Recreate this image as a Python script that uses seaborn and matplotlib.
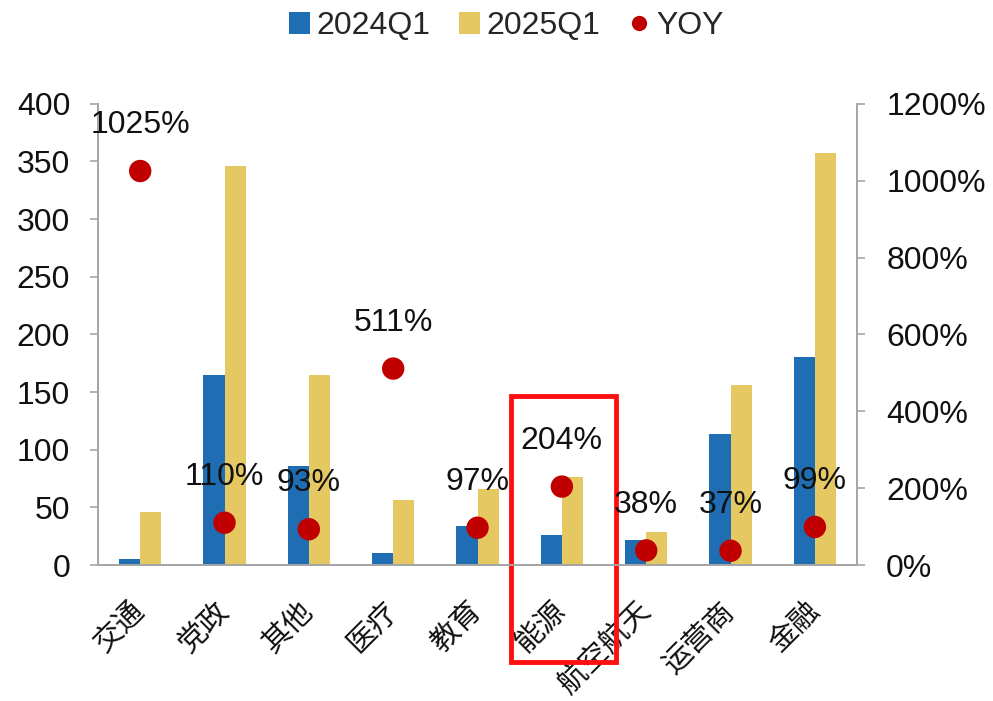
import numpy as np
import pandas as pd
import matplotlib
matplotlib.use("Agg")
import matplotlib.pyplot as plt
import matplotlib.transforms as mtransforms
from matplotlib.patches import Patch, Rectangle
from matplotlib.lines import Line2D
from matplotlib.ticker import FuncFormatter, MultipleLocator
import seaborn as sns

# Industry breakdown, 2024Q1 vs 2025Q1, with year-over-year growth
categories = ["交通", "党政", "其他", "医疗", "教育", "能源", "航空航天", "运营商", "金融"]
values_2024q1 = [5, 165, 86, 10, 34, 26, 22, 114, 180]
values_2025q1 = [46, 346, 165, 56, 66, 76, 29, 156, 357]
yoy_pct = [1025, 110, 93, 511, 97, 204, 38, 37, 99]
series_names = ["2024Q1", "2025Q1"]

BLUE = "#1F6DB2"
YELLOW = "#E5C862"
RED = "#C00000"
GRAY = "#A6A6A6"

sns.set_theme(style="white")
plt.rcParams["font.family"] = ["Liberation Sans", "Noto Sans CJK SC", "DejaVu Sans"]

df = pd.DataFrame({
    "category": categories * 2,
    "period": [series_names[0]] * len(categories) + [series_names[1]] * len(categories),
    "value": values_2024q1 + values_2025q1,
})

fig = plt.figure(figsize=(9.93, 7.01), dpi=100)
ax = fig.add_axes([0.0987, 0.194, 0.7644, 0.658])

sns.barplot(data=df, x="category", y="value", hue="period", order=categories,
            hue_order=series_names, palette=[BLUE, YELLOW], width=0.5,
            saturation=1, linewidth=0, ax=ax, legend=False)
ax.set_xlim(-0.5, len(categories) - 0.5)
ax.set_ylim(0, 400)
ax.yaxis.set_major_locator(MultipleLocator(50))
ax.set_xlabel("")
ax.set_ylabel("")

ax2 = ax.twinx()
x_idx = np.arange(len(categories))
sns.scatterplot(x=x_idx, y=yoy_pct, color=RED, s=260, edgecolor="none",
                ax=ax2, legend=False, zorder=5)
ax2.set_ylim(0, 1200)
ax2.yaxis.set_major_locator(MultipleLocator(200))
ax2.yaxis.set_major_formatter(FuncFormatter(lambda v, _: f"{v:.0f}%"))
ax2.set_xlim(-0.5, len(categories) - 0.5)
ax2.set_ylabel("")

for i, v in enumerate(yoy_pct):
    ax2.annotate(f"{v}%", (x_idx[i], v), xytext=(0, 33), textcoords="offset points",
                 ha="center", va="center", fontsize=23, color="#111111", zorder=6)

# axes styling
for a in (ax, ax2):
    a.spines["top"].set_visible(False)
    for s in ("left", "right", "bottom"):
        a.spines[s].set_color(GRAY)
        a.spines[s].set_linewidth(1.3)
ax.tick_params(axis="y", which="major", direction="out", length=6, width=1.2,
               color=GRAY, labelsize=23, labelcolor="#111111", pad=14)
ax2.tick_params(axis="y", which="major", direction="out", length=6, width=1.2,
                color=GRAY, labelsize=23, labelcolor="#111111", pad=15)
ax.tick_params(axis="x", length=0, pad=30)
ax.set_xticks(x_idx)
ax.set_xticklabels(categories, rotation=45, ha="right", va="center",
                   rotation_mode="anchor", fontsize=21, color="#111111",
                   family=["Noto Sans CJK SC", "DejaVu Sans"])

# highlight box around the energy sector
trans = mtransforms.blended_transform_factory(ax.transData, ax.transAxes)
ax.add_patch(Rectangle((5 - 0.6, -0.21), 1.24, 0.577, transform=trans,
                       fill=False, edgecolor="#FF1010", linewidth=3.5,
                       clip_on=False, zorder=10))

handles = [
    Patch(facecolor=BLUE, edgecolor="none", label=series_names[0]),
    Patch(facecolor=YELLOW, edgecolor="none", label=series_names[1]),
    Line2D([], [], marker="o", color="none", markerfacecolor=RED,
           markeredgecolor="none", markersize=11, label="YOY"),
]
fig.legend(handles=handles, loc="upper center", bbox_to_anchor=(0.51, 1.025),
           ncol=3, frameon=False, fontsize=23, handlelength=0.65,
           handleheight=0.7, handletextpad=0.2, columnspacing=0.9)

fig.savefig("out.png", dpi=100, facecolor="white")
